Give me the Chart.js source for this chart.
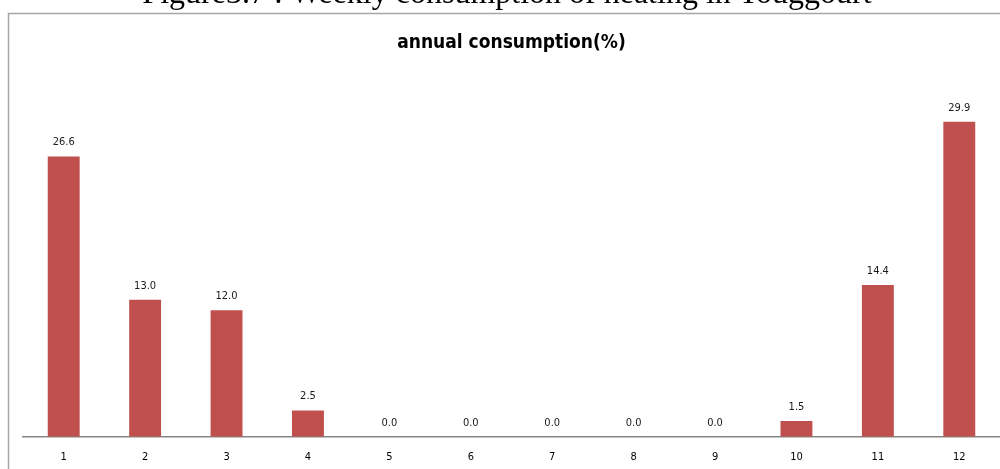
<!DOCTYPE html>
<html>
<head>
<meta charset="utf-8">
<script src="https://cdn.jsdelivr.net/npm/chart.js@4/dist/chart.umd.min.js"></script>
<style>
  html, body { margin: 0; padding: 0; background: #fff; }
  #wrap { width: 1000px; height: 469px; }
</style>
</head>
<body>
<div id="wrap"><canvas id="c" width="1000" height="469"></canvas></div>
<script>
// Monthly share of annual heating consumption (%)
const months = ['1', '2', '3', '4', '5', '6', '7', '8', '9', '10', '11', '12'];
const consumption = [26.6, 13.0, 12.0, 2.5, 0.0, 0.0, 0.0, 0.0, 0.0, 1.5, 14.4, 29.9];
const chartTitle = 'annual consumption(%)';
const captionText = 'Figure3.7 : Weekly consumption of heating in Touggourt';

const narrowFont = "'Liberation Sans Narrow', 'DejaVu Sans Condensed', 'Open Sans', sans-serif";

// Frame around the plot plus the figure caption above it
const framePlugin = {
  id: 'frame',
  beforeDraw(chart) {
    const ctx = chart.ctx;
    ctx.save();
    ctx.fillStyle = '#ffffff';
    ctx.fillRect(0, 0, chart.width, chart.height);
    ctx.strokeStyle = '#a6a6a6';
    ctx.lineWidth = 1.5;
    ctx.beginPath();
    ctx.moveTo(8.5, chart.height + 2);
    ctx.lineTo(8.5, 13.5);
    ctx.lineTo(chart.width + 2, 13.5);
    ctx.stroke();
    ctx.fillStyle = '#000';
    ctx.font = "32px 'Liberation Serif', 'DejaVu Serif', serif";
    ctx.textAlign = 'center';
    ctx.textBaseline = 'alphabetic';
    ctx.fillText(captionText, 507, 3);
    ctx.restore();
  }
};

// Value labels written above each bar
const valueLabels = {
  id: 'valueLabels',
  afterDatasetsDraw(chart) {
    const ctx = chart.ctx;
    const meta = chart.getDatasetMeta(0);
    ctx.save();
    ctx.fillStyle = '#1a1a1a';
    ctx.font = "11px " + narrowFont;
    ctx.textAlign = 'center';
    ctx.textBaseline = 'middle';
    meta.data.forEach((bar, i) => {
      ctx.fillText(consumption[i].toFixed(1), bar.x, bar.y - 14);
    });
    ctx.restore();
  }
};

new Chart(document.getElementById('c'), {
  type: 'bar',
  data: {
    labels: months,
    datasets: [{
      data: consumption,
      backgroundColor: '#c0504d',
      borderColor: '#c0504d',
      borderWidth: 0,
      barPercentage: 0.8,
      categoryPercentage: 0.49
    }]
  },
  options: {
    responsive: false,
    animation: false,
    layout: { padding: { left: 23, right: 0, top: 0, bottom: -9 } },
    plugins: {
      legend: { display: false },
      tooltip: { enabled: false },
      title: {
        display: true,
        text: chartTitle,
        color: '#000',
        font: { family: narrowFont, size: 19, weight: 'bold' },
        padding: { top: 32, bottom: 11 }
      }
    },
    scales: {
      x: {
        grid: { display: false, drawTicks: false },
        border: { display: true, color: '#868686', width: 1.5 },
        ticks: { color: '#000', font: { family: narrowFont, size: 11 }, padding: 14 }
      },
      y: {
        display: false,
        min: 0,
        max: 35.2
      }
    }
  },
  plugins: [framePlugin, valueLabels]
});
</script>
</body>
</html>
